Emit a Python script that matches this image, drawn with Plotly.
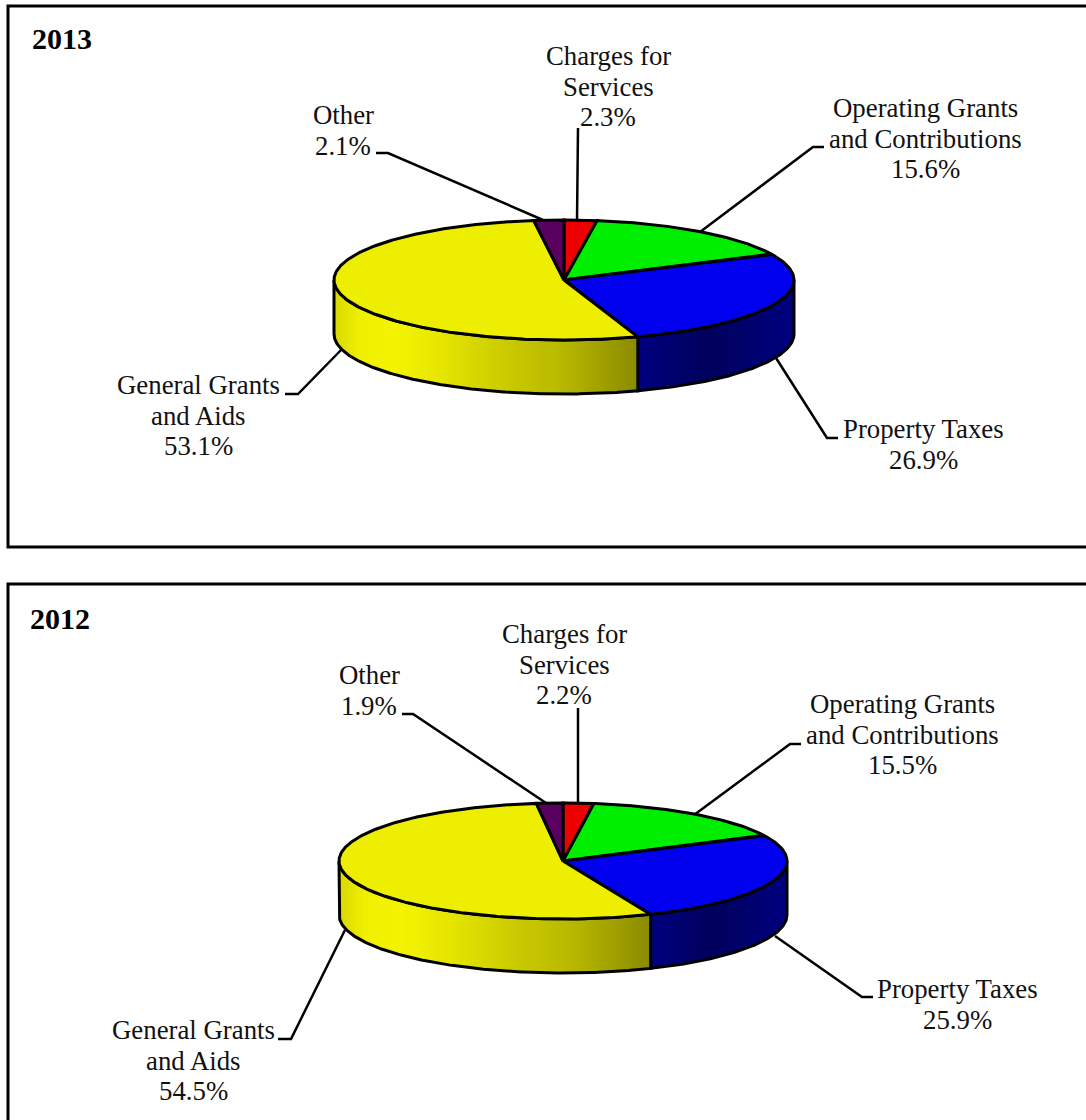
import numpy as np
import plotly.graph_objects as go

CATEGORIES = ["Charges for Services", "Operating Grants and Contributions",
              "Property Taxes", "General Grants and Aids", "Other"]
VALUES_2013 = [2.3, 15.6, 26.9, 53.1, 2.1]
VALUES_2012 = [2.2, 15.5, 25.9, 54.5, 1.9]
YEARS = ["2013", "2012"]

TOP_COLORS = ["#EE0000", "#00EE00", "#0000EE", "#EEEE00", "#5A0060"]
SIDE_GRADIENTS = {
    2: [[0, "#000080"], [0.45, "#00005C"], [1, "#000080"]],
    3: [[0, "#D8D800"], [0.08, "#EFEF00"], [0.2, "#F4F400"], [0.35, "#E6E600"],
        [0.55, "#CCCC00"], [0.75, "#B8B800"], [1, "#8A8A00"]],
}

LABEL_LINES = [["Charges for", "Services"], ["Operating Grants", "and Contributions"],
               ["Property Taxes"], ["General Grants", "and Aids"], ["Other"]]

PANELS = [
    dict(year=YEARS[0], values=VALUES_2013, cx=564, cy=280, rx=230, ry=60, depth=54,
         title=(30, 38),
         labels=[(608, 56), (925, 108), (923, 429), (198, 385), (343, 115)],
         leaders=[[(578, 128), (577, 221)], [(824, 147), (813, 147), (700, 232)],
                  [(838, 438), (827, 438), (776, 358)], [(285, 394), (298, 394), (342, 349)],
                  [(376, 153), (388, 153), (543, 220)]]),
    dict(year=YEARS[1], values=VALUES_2012, cx=563, cy=861, rx=224, ry=58, depth=54,
         title=(28, 618),
         labels=[(564, 634), (902, 704), (957, 989), (193, 1030), (369, 675)],
         leaders=[[(578, 708), (578, 805)], [(801, 744), (790, 744), (694, 815)],
                  [(873, 997), (862, 997), (775, 936)], [(278, 1039), (291, 1039), (345, 930)],
                  [(402, 714), (413, 714), (549, 805)]]),
]

FONT = "Liberation Serif"
LINE_GAP = 30.6
fig = go.Figure()
annotations = []


def arc(p, a0, a1, dy=0.0):
    t = np.radians(np.linspace(a0, a1, max(3, int(abs(a1 - a0) * 2) + 2)))
    return p["cx"] + p["rx"] * np.sin(t), p["cy"] + dy - p["ry"] * np.cos(t)


for p in PANELS:
    for pts in p["leaders"]:
        fig.add_trace(go.Scatter(x=[q[0] for q in pts], y=[q[1] for q in pts], mode="lines",
                                 line=dict(color="black", width=2.5), hoverinfo="skip"))
    total = sum(p["values"])
    edges = np.concatenate([[0], np.cumsum(p["values"])]) / total * 360
    # rim, only where the slice faces the viewer
    for i, (a, b) in enumerate(zip(edges[:-1], edges[1:])):
        lo, hi = max(a, 90), min(b, 270)
        if hi <= lo:
            continue
        xt, yt = arc(p, lo, hi)
        xb, yb = arc(p, hi, lo, p["depth"])
        fig.add_trace(go.Scatter(
            x=np.concatenate([xt, xb, xt[:1]]), y=np.concatenate([yt, yb, yt[:1]]),
            mode="lines", fill="toself",
            fillgradient=dict(type="horizontal", colorscale=SIDE_GRADIENTS[i]),
            line=dict(color="black", width=3), name=CATEGORIES[i], hoverinfo="skip"))
    # top face
    for i, (a, b) in enumerate(zip(edges[:-1], edges[1:])):
        xt, yt = arc(p, a, b)
        fig.add_trace(go.Scatter(
            x=np.concatenate([[p["cx"]], xt, [p["cx"]]]),
            y=np.concatenate([[p["cy"]], yt, [p["cy"]]]),
            mode="lines", fill="toself", fillcolor=TOP_COLORS[i],
            line=dict(color="black", width=3), name=CATEGORIES[i], hoverinfo="skip"))
    annotations.append(dict(x=p["title"][0], y=p["title"][1], text=f"<b>{p['year']}</b>",
                            xanchor="left", yanchor="middle", showarrow=False,
                            font=dict(family=FONT, size=30, color="black")))
    for i, (lx, ly) in enumerate(p["labels"]):
        lines = LABEL_LINES[i] + [f"{p['values'][i]:.1f}%"]
        for k, line in enumerate(lines):
            annotations.append(dict(x=lx, y=ly + k * LINE_GAP, text=line, xanchor="center",
                                    yanchor="middle", showarrow=False,
                                    font=dict(family=FONT, size=26.8, color="#111111")))

frame = dict(color="black", width=3)
shapes = [
    dict(type="rect", x0=8, y0=6, x1=1100, y1=547, line=frame, layer="below"),
    dict(type="rect", x0=8, y0=584, x1=1100, y1=1140, line=frame, layer="below"),
]

fig.update_layout(
    width=1086, height=1120, margin=dict(l=0, r=0, t=0, b=0), showlegend=False,
    paper_bgcolor="white", plot_bgcolor="white", shapes=shapes, annotations=annotations,
    xaxis=dict(range=[0, 1086], visible=False, fixedrange=True),
    yaxis=dict(range=[1120, 0], visible=False, fixedrange=True),
)
fig.write_html("out.html", config={"displayModeBar": False},
               post_script="document.body.style.margin='0';")
